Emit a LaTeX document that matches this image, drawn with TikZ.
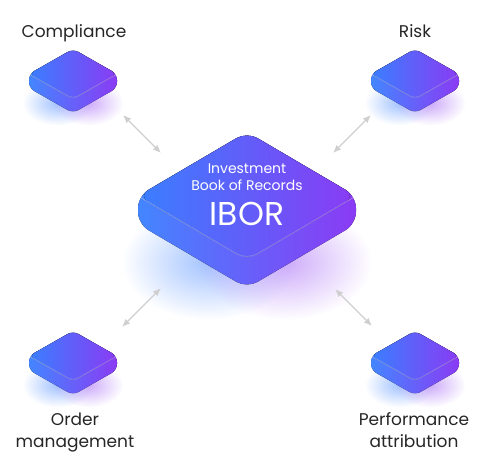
\documentclass[tikz,border=0pt]{standalone}
\usepackage{fontspec}
\setmainfont{Poppins}
\usetikzlibrary{arrows.meta, positioning, fadings}
\definecolor{ibblue}{HTML}{3A7FFF}
\definecolor{ibpurple}{HTML}{8A3BF4}
\definecolor{arrowgray}{HTML}{CFCFCF}
\definecolor{labelgray}{HTML}{262626}
\tikzset{
    >={Latex[length=8pt, width=6.5pt]}
}
\tikzfading[name=softglow, inner color=transparent!5, outer color=transparent!100]

% block: x, y (centre of top face), half width, half height, thickness, corner radius
\newcommand{\ibblock}[6]{%
    \fill[ibblue!55!white, path fading=softglow, opacity=.9]
        ({#1-#3*0.35},{#2+#4*0.6+#5}) ellipse [x radius={#3*0.8pt}, y radius={#4*0.9pt}];
    \fill[ibpurple!50!white, path fading=softglow, opacity=.9]
        ({#1+#3*0.35},{#2+#4*0.6+#5}) ellipse [x radius={#3*0.8pt}, y radius={#4*0.9pt}];
    \fill[left color=ibblue!95!white, right color=ibpurple, rounded corners=#6]
        ({#1},{#2-#4}) -- ({#1+#3},{#2}) -- ({#1+#3},{#2+#5}) -- ({#1},{#2+#4+#5})
        -- ({#1-#3},{#2+#5}) -- ({#1-#3},{#2}) -- cycle;
    \fill[left color=ibblue, right color=ibpurple, rounded corners=#6]
        ({#1},{#2-#4}) -- ({#1+#3},{#2}) -- ({#1},{#2+#4}) -- ({#1-#3},{#2}) -- cycle;
    \draw[white, opacity=.3, line width=.8pt, rounded corners=#6]
        ({#1+#3},{#2}) -- ({#1},{#2+#4}) -- ({#1-#3},{#2});
}

\begin{document}
\begin{tikzpicture}[x=1pt, y=-1pt,
    outerlabel/.style={text=labelgray, font=\fontsize{17}{22}\selectfont, align=center, inner sep=0pt},
    innerlabel/.style={text=white, font=\fontsize{14}{16}\selectfont, inner sep=0pt},
    link/.style={<->, arrowgray, line width=1.2pt}]
    \useasboundingbox (0,0) rectangle (493,466);

    % blocks
    \ibblock{73}{74}{44}{25}{14}{6}
    \ibblock{415}{74}{44}{25}{14}{6}
    \ibblock{73}{356}{44}{25}{14}{6}
    \ibblock{415}{356}{44}{25}{14}{6}
    \ibblock{247}{196}{109}{64}{28}{12}

    % texts
    \node[outerlabel, anchor=base] (compliance) at (74,37) {Compliance};
    \node[outerlabel, anchor=base] (risk) at (415,37) {Risk};
    \node[outerlabel, anchor=base] (order) at (75,447) {Order\\management};
    \node[outerlabel, anchor=base] (perf) at (414,447) {Performance\\attribution};
    \node[innerlabel, anchor=base] (invest) at (247,173) {Investment};
    \node[innerlabel, anchor=base] (book) at (247,190) {Book of Records};
    \node[innerlabel, anchor=base, font=\fontsize{33}{36}\selectfont] (ibor) at (247,225) {IBOR};

    % links
    \coordinate (tla) at (123,115);
    \coordinate (tlb) at (161,153);
    \coordinate (tra) at (371,115);
    \coordinate (trb) at (333,153);
    \coordinate (bla) at (122,327);
    \coordinate (blb) at (161,288);
    \coordinate (bra) at (372,326);
    \coordinate (brb) at (335,289);
    \draw[link] (tla) -- (tlb);
    \draw[link] (tra) -- (trb);
    \draw[link] (bla) -- (blb);
    \draw[link] (bra) -- (brb);
\end{tikzpicture}
\end{document}
